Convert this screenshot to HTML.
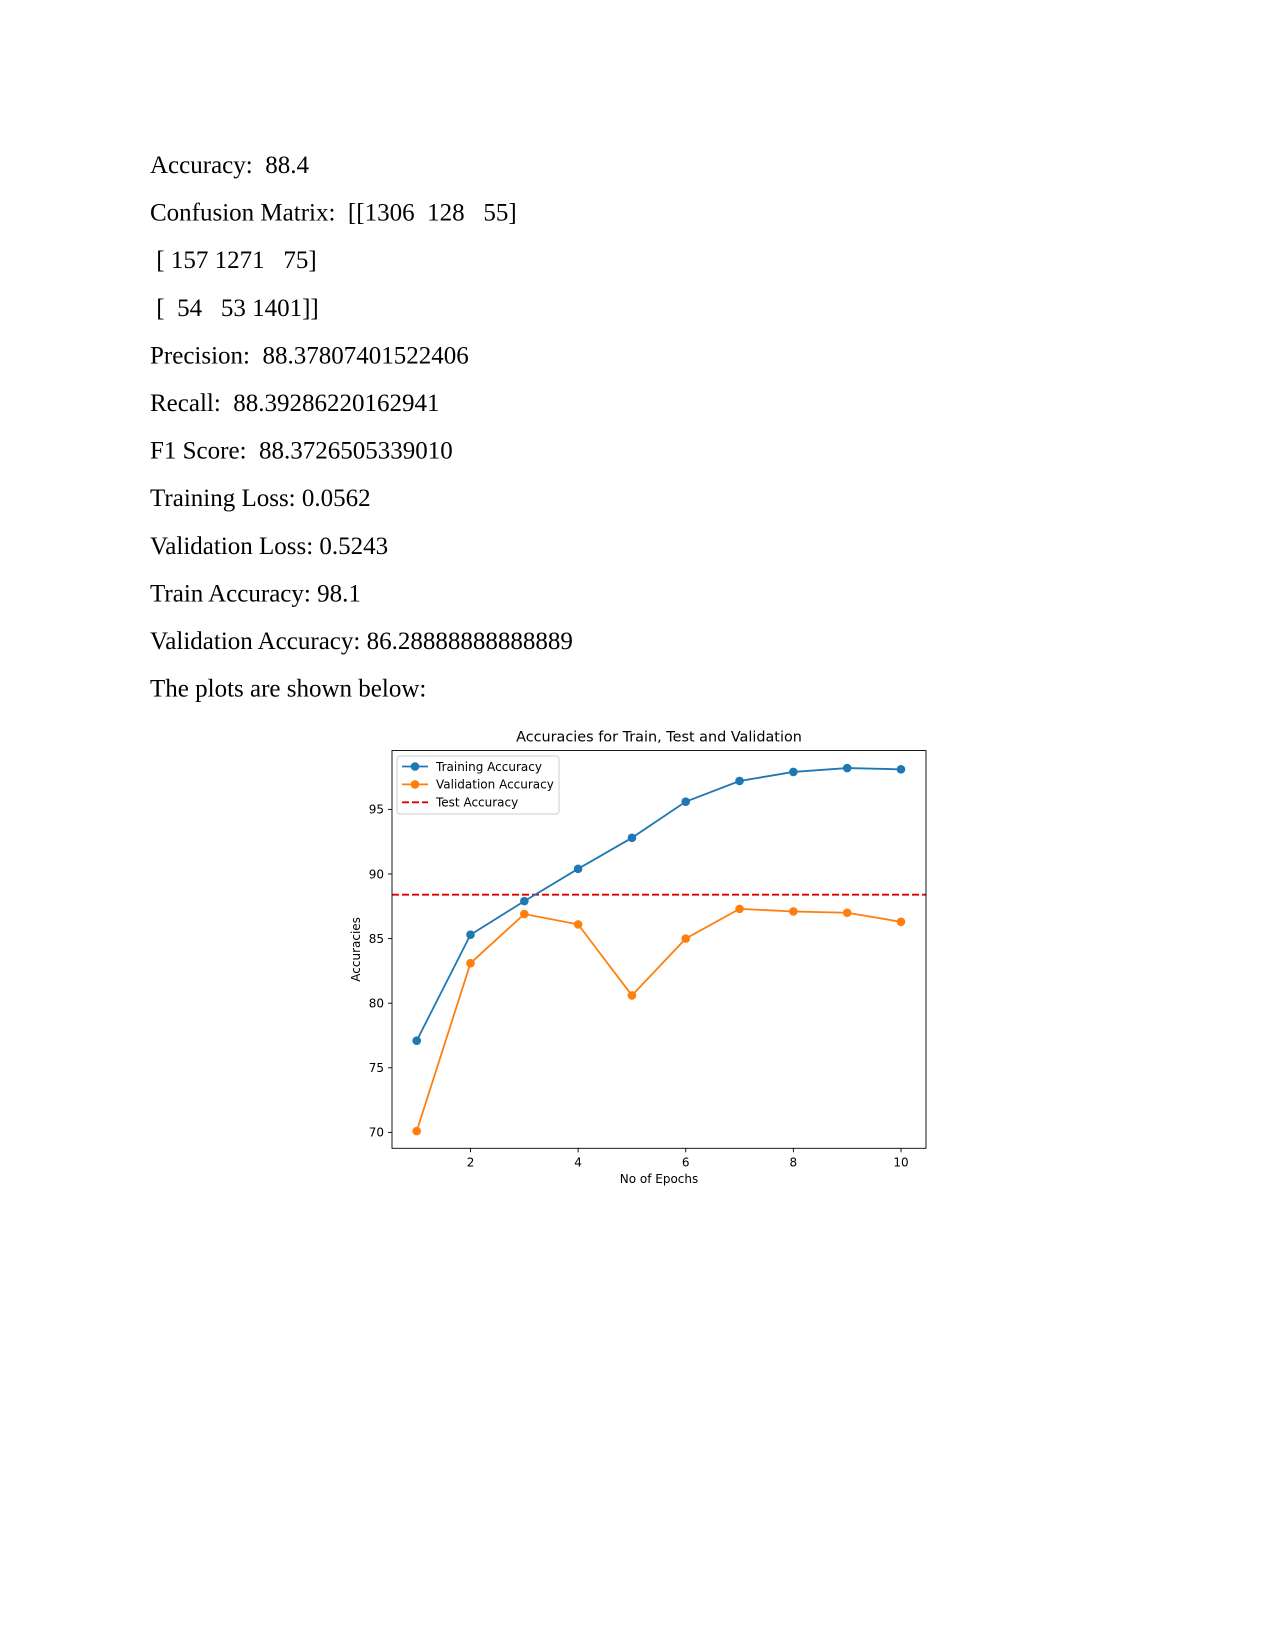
<!DOCTYPE html>
<html><head><meta charset="utf-8"><style>
html,body{margin:0;padding:0;background:#fff;}
svg{display:block;}
.doc{font-family:"Liberation Serif",serif;font-size:25px;fill:#000;white-space:pre;}
.mpl{font-family:"DejaVu Sans","Liberation Sans",sans-serif;fill:#000;}
</style></head><body>
<svg id="page" width="1275" height="1650" viewBox="0 0 1275 1650" xmlns="http://www.w3.org/2000/svg">
<g xml:space="preserve">
<text class="doc" x="150" y="173">Accuracy:  88.4</text>
<text class="doc" x="150" y="220.6">Confusion Matrix:  [[1306  128   55]</text>
<text class="doc" x="150" y="268.2"> [ 157 1271   75]</text>
<text class="doc" x="150" y="315.8"> [  54   53 1401]]</text>
<text class="doc" x="150" y="363.4">Precision:  88.37807401522406</text>
<text class="doc" x="150" y="411">Recall:  88.39286220162941</text>
<text class="doc" x="150" y="458.6">F1 Score:  88.3726505339010</text>
<text class="doc" x="150" y="506.2">Training Loss: 0.0562</text>
<text class="doc" x="150" y="553.8">Validation Loss: 0.5243</text>
<text class="doc" x="150" y="601.4">Train Accuracy: 98.1</text>
<text class="doc" x="150" y="649">Validation Accuracy: 86.28888888888889</text>
<text class="doc" x="150" y="696.6">The plots are shown below:</text>
</g>
<g id="chart"></g>
</svg>
<script>
const epochs = [1,2,3,4,5,6,7,8,9,10];
const trainAcc = [77.1,85.3,87.9,90.4,92.8,95.6,97.2,97.9,98.2,98.1];
const valAcc = [70.1,83.1,86.9,86.1,80.6,85.0,87.3,87.1,87.0,86.3];
const testAcc = 88.4;
const xTicks = [2,4,6,8,10];
const yTicks = [70,75,80,85,90,95];

const NS='http://www.w3.org/2000/svg';
const L=392,R=926,T=750.5,B=1148.3;
function xs(v){return 416.7+(v-1)*53.81;}
function ys(v){return 1132.4-(v-70)*12.92;}
const g=document.getElementById('chart');
function mk(tag,attrs,parent){const e=document.createElementNS(NS,tag);for(const k in attrs)e.setAttribute(k,attrs[k]);(parent||g).appendChild(e);return e;}

let t=mk('text',{x:(L+R)/2,y:741.5,'text-anchor':'middle','font-size':'14.4',class:'mpl'});
t.textContent='Accuracies for Train, Test and Validation';



xTicks.forEach(v=>{
  const ln=mk('line',{x1:xs(v),x2:xs(v),y1:B,y2:B+4,stroke:'#000','stroke-width':'0.9'});
  
  
  const tx=mk('text',{x:xs(v),y:B+18,'text-anchor':'middle','font-size':'12',class:'mpl'});
  tx.textContent=v;
  
  
});
yTicks.forEach(v=>{
  const ln=mk('line',{x1:L-4,x2:L,y1:ys(v),y2:ys(v),stroke:'#000','stroke-width':'0.9'});
  
  
  const tx=mk('text',{x:L-8,y:ys(v)+4.3,'text-anchor':'end','font-size':'12',class:'mpl'});
  tx.textContent=v;
  
  
});
t=mk('text',{x:(L+R)/2,y:1183,'text-anchor':'middle','font-size':'12',class:'mpl'});
t.textContent='No of Epochs';


t=mk('text',{x:0,y:0,'text-anchor':'middle','font-size':'12',class:'mpl',transform:'translate(360,'+((T+B)/2)+') rotate(-90)'});
t.textContent='Accuracies';



let tl=mk('line',{x1:L,x2:R,y1:ys(testAcc),y2:ys(testAcc),stroke:'#e00000','stroke-width':'1.8','stroke-dasharray':'7,3'});



function series(vals,color,name){
  const p=mk('polyline',{points:vals.map((v,i)=>xs(epochs[i])+','+ys(v)).join(' '),fill:'none',stroke:color,'stroke-width':'1.8'});
  
  
  vals.forEach((v,i)=>{
    const c=mk('circle',{cx:xs(epochs[i]),cy:ys(v),r:4.3,fill:color});
    
    
  });
}
series(trainAcc,'#1f77b4','training-accuracy');
series(valAcc,'#ff7f0e','validation-accuracy');

let fr=mk('rect',{x:L,y:T,width:R-L,height:B-T,fill:'none',stroke:'#000','stroke-width':'0.9'});



const lg=mk('g',{});


mk('rect',{x:397,y:756,width:162,height:58,rx:3,fill:'#fff','fill-opacity':'0.8',stroke:'#ccc','stroke-width':'1'},lg);
const entries=[['Training Accuracy','#1f77b4',false],['Validation Accuracy','#ff7f0e',false],['Test Accuracy','#e00000',true]];
entries.forEach((e,i)=>{
  const y=766.5+i*17.9;
  const eg=mk('g',{},lg);
  
  
  mk('line',{x1:402,x2:428,y1:y,y2:y,stroke:e[1],'stroke-width':'1.8','stroke-dasharray':e[2]?'7,3':'none'},eg);
  if(!e[2]) mk('circle',{cx:415,cy:y,r:4.3,fill:e[1]},eg);
  const tx=mk('text',{x:436,y:y+4.3,'font-size':'12',class:'mpl'},eg);
  tx.textContent=e[0];
});
</script>
</body></html>
